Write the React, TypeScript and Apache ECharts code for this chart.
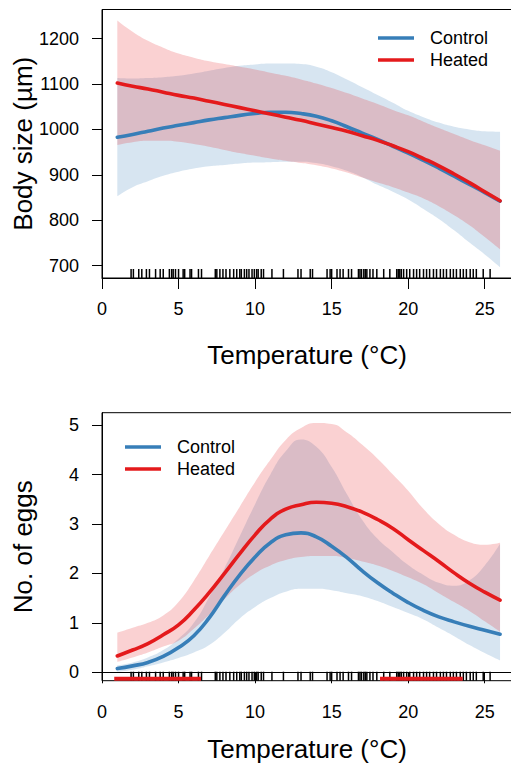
import React, { useEffect, useRef } from "react";
import * as echarts from "echarts";

// ---------- data ----------
const temps = [1, 2, 3, 4, 5, 6, 7, 8, 9, 10, 11, 12, 13, 14, 15, 16, 17, 18, 19, 20, 21, 22, 23, 24, 25, 26];

// Body size (µm)
const ctrlSize = [983, 989, 996, 1003, 1009, 1015, 1021, 1026, 1031, 1035, 1038, 1038, 1035, 1029, 1019, 1006, 992, 978, 963, 948, 932, 915, 897, 879, 861, 842];
const ctrlSizeLo = [853, 873, 886, 898, 907, 914, 919, 922, 925, 927, 928, 929, 929, 926, 919, 909, 895, 878, 863, 846, 825, 803, 778, 751, 725, 697];
const ctrlSizeHi = [1113, 1112, 1113, 1115, 1118, 1123, 1129, 1135, 1140, 1143, 1145, 1145, 1144, 1138, 1126, 1110, 1093, 1076, 1059, 1041, 1027, 1015, 1006, 1000, 996, 995];
const heatSize = [1102, 1095, 1089, 1082, 1075, 1069, 1062, 1055, 1048, 1041, 1034, 1027, 1020, 1012, 1004, 996, 986, 976, 964, 951, 936, 920, 902, 883, 863, 843];
const heatSizeLo = [966, 972, 975, 975, 973, 968, 962, 955, 948, 942, 936, 931, 926, 921, 914, 905, 894, 883, 873, 861, 848, 831, 811, 789, 763, 736];
const heatSizeHi = [1240, 1215, 1195, 1180, 1167, 1158, 1150, 1144, 1138, 1132, 1125, 1118, 1110, 1101, 1091, 1080, 1068, 1056, 1043, 1031, 1017, 1003, 990, 977, 965, 953];

// No. of eggs
const ctrlEggs = [0.075, 0.13, 0.2, 0.32, 0.5, 0.74, 1.1, 1.55, 1.97, 2.33, 2.62, 2.78, 2.82, 2.74, 2.55, 2.32, 2.05, 1.81, 1.6, 1.41, 1.25, 1.12, 1.02, 0.93, 0.85, 0.77];
const ctrlEggsLo = [0.01, 0.05, 0.12, 0.2, 0.29, 0.4, 0.55, 0.8, 1.09, 1.32, 1.5, 1.63, 1.69, 1.69, 1.66, 1.6, 1.54, 1.44, 1.32, 1.2, 1.07, 0.9, 0.73, 0.55, 0.39, 0.24];
const ctrlEggsHi = [0.14, 0.2, 0.3, 0.45, 0.68, 1.0, 1.52, 2.1, 2.75, 3.4, 4.0, 4.47, 4.71, 4.56, 4.15, 3.6, 3.08, 2.7, 2.43, 2.17, 1.97, 1.81, 1.75, 1.86, 2.16, 2.6];
const heatEggs = [0.33, 0.45, 0.58, 0.76, 0.96, 1.26, 1.61, 2.0, 2.4, 2.78, 3.1, 3.3, 3.39, 3.44, 3.42, 3.35, 3.24, 3.09, 2.91, 2.68, 2.46, 2.24, 2.01, 1.8, 1.62, 1.46];
const heatEggsLo = [0.21, 0.3, 0.4, 0.52, 0.64, 0.88, 1.17, 1.48, 1.77, 2.0, 2.16, 2.27, 2.33, 2.35, 2.35, 2.31, 2.24, 2.16, 2.05, 1.92, 1.78, 1.6, 1.42, 1.24, 1.03, 0.82];
const heatEggsHi = [0.8, 0.9, 1.0, 1.15, 1.42, 1.85, 2.35, 2.85, 3.35, 3.85, 4.3, 4.7, 4.94, 5.04, 5.02, 4.85, 4.6, 4.32, 4.0, 3.67, 3.3, 3.0, 2.78, 2.63, 2.58, 2.62];

// Rug of observed temperatures
const rugTemps = [1.9, 2.05, 2.4, 2.6, 2.9, 3.1, 3.5, 3.8, 4.0, 4.4, 4.55, 4.65, 4.8, 5.0, 5.3, 5.4, 5.75, 5.85, 6.3, 6.5, 7.4, 7.5, 7.7, 7.9, 8.1, 8.35, 8.6, 8.8, 9.0, 9.1, 9.3, 9.45, 9.6, 9.8, 9.95, 10.1, 10.2, 10.4, 10.55, 11.1, 11.85, 12.8, 13.0, 13.6, 13.75, 14.7, 14.9, 15.0, 15.35, 15.55, 15.75, 16.1, 16.3, 16.75, 16.85, 16.95, 17.1, 17.2, 17.3, 17.5, 17.7, 17.95, 18.4, 18.8, 19.25, 19.35, 19.45, 19.55, 19.7, 19.9, 20.1, 20.35, 20.55, 20.75, 21.0, 21.2, 21.4, 21.65, 21.85, 22.1, 22.3, 22.5, 22.75, 22.95, 23.15, 23.4, 23.6, 23.8, 24.05, 24.25, 24.45, 24.9, 25.35];

// Temperature ranges with a significant difference (eggs panel)
const sigRanges = [[0.8, 6.47], [18.16, 23.56]];

const xTicks = [0, 5, 10, 15, 20, 25];
const sizeTicks = [700, 800, 900, 1000, 1100, 1200];
const eggTicks = [0, 1, 2, 3, 4, 5];

// ---------- styles / layout ----------
const BLUE = "#377EB8";
const RED = "#E41A1C";
const BLUE_BAND = "rgba(55,126,184,0.2)";
const RED_BAND = "rgba(228,26,28,0.2)";
const FONT = "'Liberation Sans', Arial, Helvetica, sans-serif";

const GRID_LEFT = 102;
const GRID_W = 410;
const TOP_Y = 9.5;
const TOP_H = 268.5;
const BOT_Y = 412.7;
const BOT_H = 268;

const SIZE_MIN = 673;
const SIZE_MAX = 1264;
const EGG_MIN = -0.17;
const EGG_MAX = 5.25;
const X_MAX = 26.78;
const SIG_Y = -0.13;

// overlay grid whose category axis puts temps[0] .. temps[last] exactly on the value axis positions
const PX_PER_UNIT = GRID_W / X_MAX;
const BAND_LEFT = GRID_LEFT + temps[0] * PX_PER_UNIT;
const BAND_W = (temps[temps.length - 1] - temps[0]) * PX_PER_UNIT;

function band(id: string, lo: number[], hi: number[], color: string, gi: number) {
  return [
    {
      type: "line", name: id + "Lo", stack: id + gi, xAxisIndex: gi, yAxisIndex: gi,
      data: lo, symbol: "none", smooth: true,
      lineStyle: { opacity: 0 }, silent: true,
    },
    {
      type: "line", name: id + "Band", stack: id + gi, xAxisIndex: gi, yAxisIndex: gi,
      data: hi.map((v, i) => v - lo[i]), symbol: "none", smooth: true,
      lineStyle: { opacity: 0 }, areaStyle: { color, opacity: 1 }, silent: true,
    },
  ];
}

function mean(name: string, vals: number[], color: string, gi: number) {
  return {
    type: "line", name, xAxisIndex: gi, yAxisIndex: gi,
    data: vals, symbol: "none", smooth: true,
    lineStyle: { color, width: 3.6, cap: "round" }, itemStyle: { color },
  };
}

function rug(gi: number, ymin: number) {
  return {
    type: "custom", xAxisIndex: gi, yAxisIndex: gi, silent: true,
    data: rugTemps.map((t) => [t, ymin]),
    renderItem: (params: any, api: any) => {
      const p = api.coord([api.value(0), ymin]);
      return {
        type: "line",
        shape: { x1: p[0], y1: p[1], x2: p[0], y2: p[1] - 9 },
        style: { stroke: "#000", lineWidth: 1.5 },
      };
    },
  };
}

function xAxis(gi: number, nameGap: number) {
  return {
    type: "value", gridIndex: gi, min: 0, max: X_MAX,
    name: "Temperature (°C)", nameLocation: "middle", nameGap, nameMoveOverlap: false,
    nameTextStyle: { fontSize: 26, color: "#000", fontFamily: FONT },
    axisLine: { show: true, lineStyle: { color: "#000", width: 1 } },
    axisTick: { show: true, length: 11, customValues: xTicks, lineStyle: { color: "#000", width: 1 } },
    axisLabel: { customValues: xTicks, margin: 22, fontSize: 18, color: "#000", fontFamily: FONT, formatter: (v: number) => String(v) },
    splitLine: { show: false },
  };
}

function yAxis(gi: number, min: number, max: number, ticks: number[], name: string) {
  return {
    type: "value", gridIndex: gi, min, max,
    name, nameLocation: "middle", nameGap: 66, nameMoveOverlap: false,
    nameTextStyle: { fontSize: 26, color: "#000", fontFamily: FONT },
    axisLine: { show: true, lineStyle: { color: "#000", width: 1 } },
    axisTick: { show: true, length: 10, customValues: ticks, lineStyle: { color: "#000", width: 1 } },
    axisLabel: { customValues: ticks, margin: 23, fontSize: 18, color: "#000", fontFamily: FONT, formatter: (v: number) => String(v) },
    splitLine: { show: false },
  };
}

function hiddenX(gi: number) {
  return { type: "category", gridIndex: gi, data: temps.map(String), boundaryGap: false, show: false };
}
function hiddenY(gi: number, min: number, max: number) {
  return { type: "value", gridIndex: gi, min, max, show: false, splitLine: { show: false } };
}

function legend(left: number, top: number) {
  return {
    orient: "vertical", left, top, padding: 0, data: ["Control", "Heated"],
    icon: "rect", itemWidth: 36, itemHeight: 3.6, itemGap: 4,
    selectedMode: false,
    textStyle: { fontSize: 18, color: "#000", fontFamily: FONT, padding: [0, 0, 0, 11] },
  };
}

function grid(left: number, top: number, width: number, height: number, show: boolean) {
  return {
    left, top, width, height, show, borderColor: "#000", borderWidth: 1,
    containLabel: false, outerBoundsMode: "none",
  };
}

export default function App() {
  const ref = useRef<HTMLDivElement>(null);
  useEffect(() => {
    document.body.style.margin = "0";
    if (!ref.current) return;
    const chart = echarts.init(ref.current, undefined, { renderer: "svg" });
    const series: any[] = [];
    // top panel (bands and means on overlay grid 2)
    series.push(...band("ctrl", ctrlSizeLo, ctrlSizeHi, BLUE_BAND, 2));
    series.push(mean("Control", ctrlSize, BLUE, 2));
    series.push(...band("heat", heatSizeLo, heatSizeHi, RED_BAND, 2));
    series.push(mean("Heated", heatSize, RED, 2));
    series.push(rug(0, SIZE_MIN));
    // bottom panel (overlay grid 3)
    series.push(...band("ctrl", ctrlEggsLo, ctrlEggsHi, BLUE_BAND, 3));
    series.push(mean("Control", ctrlEggs, BLUE, 3));
    series.push(...band("heat", heatEggsLo, heatEggsHi, RED_BAND, 3));
    series.push(mean("Heated", heatEggs, RED, 3));
    series.push(rug(1, EGG_MIN));
    sigRanges.forEach((r) => {
      series.push({
        type: "line", xAxisIndex: 1, yAxisIndex: 1, symbol: "none", silent: true,
        data: [[r[0], SIG_Y], [r[1], SIG_Y]],
        lineStyle: { color: RED, width: 4, cap: "butt" },
      });
    });

    chart.setOption({
      animation: false,
      backgroundColor: "#fff",
      grid: [
        grid(GRID_LEFT, TOP_Y, GRID_W, TOP_H, true),
        grid(GRID_LEFT, BOT_Y, GRID_W, BOT_H, true),
        grid(BAND_LEFT, TOP_Y, BAND_W, TOP_H, false),
        grid(BAND_LEFT, BOT_Y, BAND_W, BOT_H, false),
      ],
      xAxis: [xAxis(0, 64), xAxis(1, 55), hiddenX(2), hiddenX(3)],
      yAxis: [
        yAxis(0, SIZE_MIN, SIZE_MAX, sizeTicks, "Body size (µm)"),
        yAxis(1, EGG_MIN, EGG_MAX, eggTicks, "No. of eggs"),
        hiddenY(2, SIZE_MIN, SIZE_MAX),
        hiddenY(3, EGG_MIN, EGG_MAX),
      ],
      legend: [legend(378, 29), legend(125, 438)],
      series,
    });
    return () => chart.dispose();
  }, []);
  return <div ref={ref} style={{ width: 511, height: 771 }} />;
}
